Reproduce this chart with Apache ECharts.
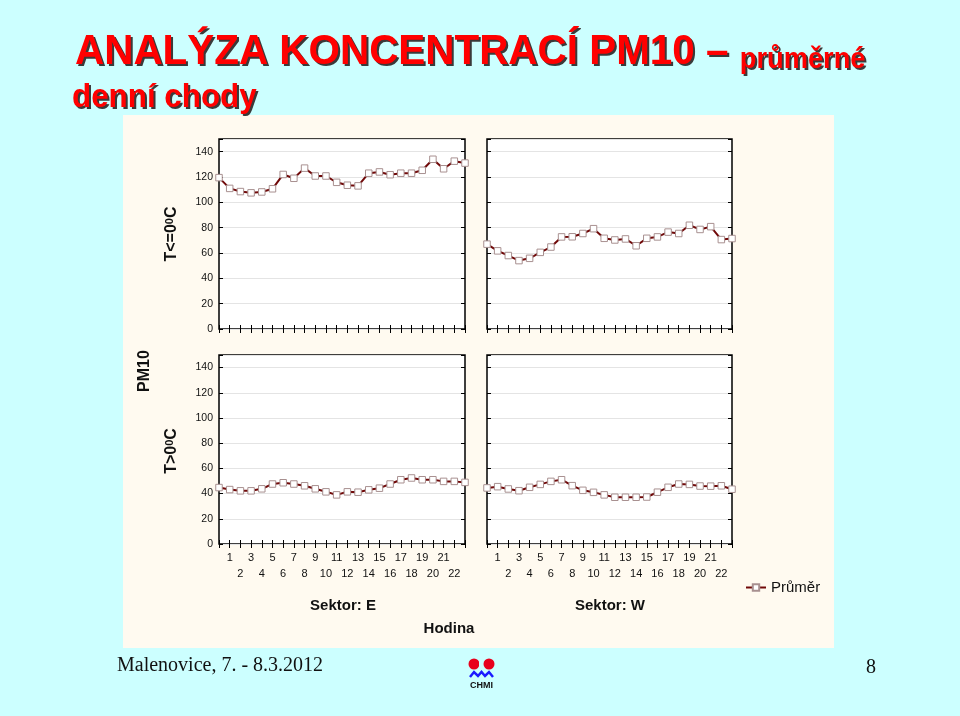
<!DOCTYPE html>
<html><head><meta charset="utf-8">
<script src="https://cdn.jsdelivr.net/npm/echarts@6/dist/echarts.min.js"></script>
<style>html,body{margin:0;padding:0;background:#ccffff;}#c{width:960px;height:716px;}</style>
</head><body><div id="c"></div>
<script>
// ---- data ----
const hours = ['0','1','2','3','4','5','6','7','8','9','10','11','12','13','14','15','16','17','18','19','20','21','22','23'];
const yTicks = [0, 20, 40, 60, 80, 100, 120, 140];
const coldE = [119.5, 111, 108.5, 107.5, 108.2, 110.7, 122, 119, 127, 120.8, 120.8, 115.8, 113.5, 113, 123, 124, 121.8, 123, 123, 125.3, 134, 126.5, 132.5, 131];
const coldW = [67, 61.7, 58, 54, 55.8, 60.5, 64.7, 72.7, 72.8, 75.4, 79.2, 71.6, 70.3, 71.1, 65.7, 71.6, 72.7, 76.5, 75.4, 81.9, 78.6, 80.8, 70.6, 71.4];
const warmE = [44.8, 43.2, 42.2, 42.2, 43.8, 47.6, 48.6, 47.6, 46.2, 43.8, 41.4, 39, 41.4, 41.1, 43, 44.3, 47.6, 51, 52.4, 51, 51, 49.7, 49.7, 48.9];
const warmW = [44.5, 45.5, 43.7, 42.3, 45, 47.3, 49.7, 51, 46.3, 42.6, 41, 39, 37.1, 37.1, 37.1, 37.3, 41.1, 45, 47.6, 47.3, 46, 45.9, 46.2, 43.5];
const seriesName = 'Průměr';
const sectorNames = ['Sektor: E', 'Sektor: W'];
const xAxisTitle = 'Hodina';
const yAxisTitle = 'PM10';
const titleMain = 'ANALÝZA KONCENTRACÍ PM10 – ';
const titleSub = 'průměrné';
const titleLine2 = 'denní chody';
const footerText = 'Malenovice, 7. - 8.3.2012';
const pageNo = '8';

// ---- layout ----
const panels = [
  {vals: coldE, left: 219, top: 139, width: 246, height: 190, yLab: true,  xLab: false},
  {vals: coldW, left: 487, top: 139, width: 245, height: 190, yLab: false, xLab: false},
  {vals: warmE, left: 219, top: 355, width: 246, height: 189, yLab: true,  xLab: true},
  {vals: warmW, left: 487, top: 355, width: 245, height: 189, yLab: false, xLab: true}
];
const FF = 'Liberation Sans, Arial, sans-serif';
const grid = [], xAxis = [], yAxis = [], series = [];
panels.forEach((p, i) => {
  grid.push({left: p.left, top: p.top, width: p.width, height: p.height, show: true,
    backgroundColor: '#ffffff', borderColor: '#000', borderWidth: 1.5, containLabel: false});
  const tick = {show: true, inside: true, length: 4, interval: 0, lineStyle: {color: '#000', width: 1}};
  xAxis.push({type: 'category', gridIndex: i, data: hours, boundaryGap: false, position: 'bottom',
    axisLine: {show: false}, axisTick: tick, splitLine: {show: false},
    axisLabel: {show: p.xLab, interval: 0, fontSize: 11, fontFamily: FF, color: '#111', margin: 6, lineHeight: 16,
      formatter: (v, idx) => (idx === 0 || idx === hours.length - 1) ? '' : (idx % 2 === 1 ? v : '\n' + v)}});
  xAxis.push({type: 'category', gridIndex: i, data: hours, boundaryGap: false, position: 'top',
    axisLine: {show: false}, axisTick: tick, axisLabel: {show: false}, splitLine: {show: false}});
  yAxis.push({type: 'value', gridIndex: i, min: 0, max: 150, interval: 20, position: 'left',
    axisLine: {show: false}, axisTick: {show: true, inside: true, length: 4, lineStyle: {color: '#000'}},
    splitLine: {show: true, lineStyle: {color: '#e4e4e4', width: 1}},
    axisLabel: {show: p.yLab, fontSize: 10.5, fontFamily: FF, color: '#111', margin: 6,
      formatter: v => yTicks.indexOf(v) >= 0 ? String(v) : ''}});
  yAxis.push({type: 'value', gridIndex: i, min: 0, max: 150, interval: 20, position: 'right',
    axisLine: {show: false}, axisTick: {show: true, inside: true, length: 4, lineStyle: {color: '#000'}},
    splitLine: {show: false}, axisLabel: {show: false}});
  series.push({type: 'line', name: seriesName, xAxisIndex: 2 * i, yAxisIndex: 2 * i, data: p.vals,
    symbol: 'rect', symbolSize: 6.5, showAllSymbol: true, animation: false,
    lineStyle: {color: '#700808', width: 2},
    itemStyle: {color: '#ffffff', borderColor: '#a89090', borderWidth: 1}});
});

function richTitle(x, y, parts, fill, scaleX) {
  const rich = {};
  let text = '';
  parts.forEach((pt, k) => {
    rich['p' + k] = {fontSize: pt.size, fontWeight: 'bold', fontFamily: FF, fill: fill, verticalAlign: 'bottom'};
    text += '{p' + k + '|' + pt.t + '}';
  });
  return {type: 'text', x: x, y: y, scaleX: scaleX, silent: true,
    style: {x: 0, y: 0, text: text, rich: rich, verticalAlign: 'bottom', align: 'left', fill: fill}};
}
function rotLabel(cx, cy, main, sup, tail) {
  const rich = {m: {fontSize: 16, fontWeight: 'bold', fontFamily: FF, fill: '#111'},
                s: {fontSize: 11, fontWeight: 'bold', fontFamily: FF, fill: '#111', verticalAlign: 'top'}};
  let text = '{m|' + main + '}' + (sup ? '{s|' + sup + '}' : '') + (tail ? '{m|' + tail + '}' : '');
  return {type: 'text', x: cx, y: cy, rotation: Math.PI / 2, silent: true,
    style: {x: 0, y: 0, text: text, rich: rich, align: 'center', verticalAlign: 'middle'}};
}
function label(cx, cy, t, size, bold, family, align) {
  return {type: 'text', x: cx, y: cy, silent: true,
    style: {text: t, fontSize: size, fontWeight: bold ? 'bold' : 'normal', fontFamily: family || FF,
      fill: '#111', align: align || 'center', verticalAlign: 'middle'}};
}

const line1 = [{t: titleMain, size: 43}, {t: titleSub, size: 29}];
const line2 = [{t: titleLine2, size: 33}];
const graphic = [
  {type: 'rect', z: -10, silent: true, shape: {x: 123, y: 115, width: 711, height: 533}, style: {fill: '#fffaf0'}},
  richTitle(77, 76, line1, '#3a3a3a', 0.94),
  richTitle(75, 74, line1, '#ff0000', 0.94),
  richTitle(74, 116, line2, '#3a3a3a', 0.95),
  richTitle(72, 114, line2, '#ff0000', 0.95),
  rotLabel(172, 234, 'T<=0', '0', 'C'),
  rotLabel(145, 371, yAxisTitle, '', ''),
  rotLabel(172, 451, 'T>0', '0', 'C'),
  label(343, 606, sectorNames[0], 15, true),
  label(610, 606, sectorNames[1], 15, true),
  label(449, 629, xAxisTitle, 15, true),
  label(117, 666, footerText, 20, false, 'Liberation Serif, Times New Roman, serif', 'left'),
  label(871, 668, pageNo, 20, false, 'Liberation Serif, Times New Roman, serif'),
  // CHMI logo
  {type: 'circle', silent: true, shape: {cx: 474, cy: 664, r: 5.5}, style: {fill: '#e8001c'}},
  {type: 'circle', silent: true, shape: {cx: 489, cy: 664, r: 5.5}, style: {fill: '#e8001c'}},
  {type: 'rect', silent: true, shape: {x: 479, y: 659, width: 1.5, height: 10}, style: {fill: '#ccffff'}},
  {type: 'polyline', silent: true, shape: {points: [[470, 677], [474, 672], [478, 676], [481.5, 672], [485, 676], [489, 672], [493, 677]]},
    style: {stroke: '#1a1aff', lineWidth: 2.5, fill: null}},
  label(481.5, 686, 'CHMI', 9, true)
];

const chart = echarts.init(document.getElementById('c'), null, {renderer: 'canvas'});
chart.setOption({
  backgroundColor: '#ccffff',
  animation: false,
  grid: grid, xAxis: xAxis, yAxis: yAxis, series: series,
  legend: {data: [seriesName], left: 740, top: 575, itemWidth: 20, itemHeight: 8, itemGap: 6,
    textStyle: {fontSize: 15, fontFamily: FF, color: '#111'}},
  graphic: graphic
});
</script></body></html>
